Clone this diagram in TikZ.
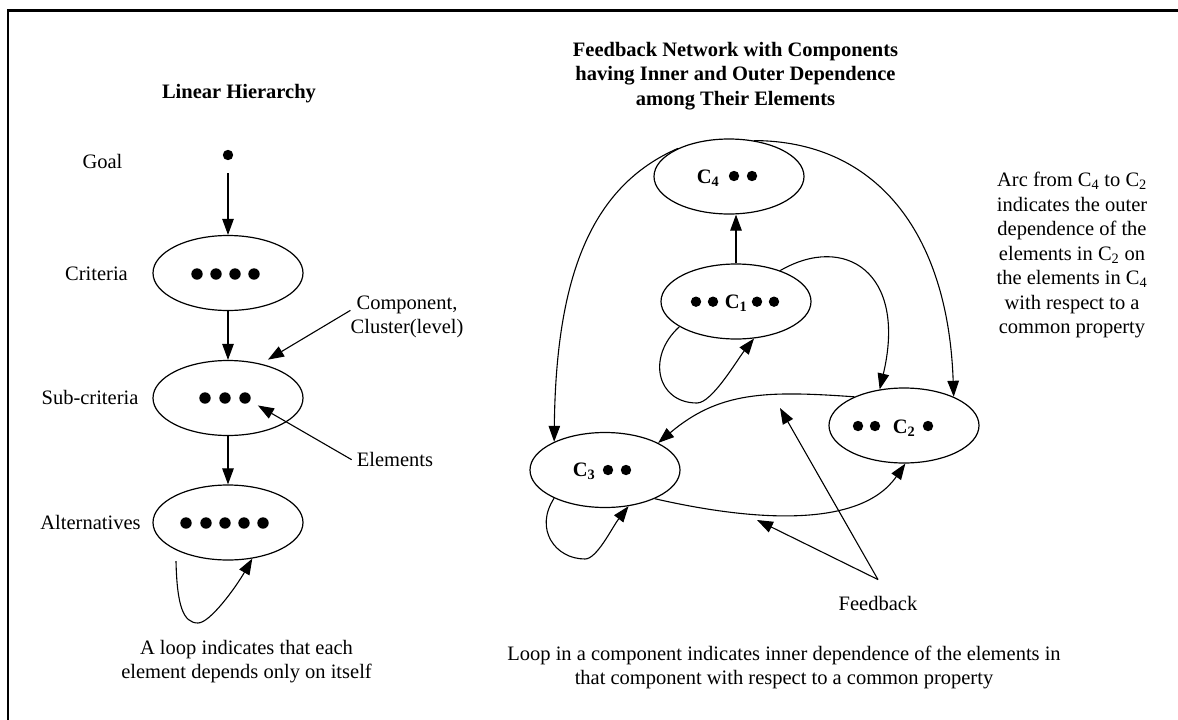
\documentclass[tikz,border=0pt]{standalone}
\usepackage{fontspec}
\setmainfont{Liberation Serif}
\usetikzlibrary{shapes.geometric,arrows.meta}
% centred multi-line text whose baseline is that of its first line
\newcommand{\stack}[1]{\begin{tabular}[t]{@{}c@{}}#1\end{tabular}}

\begin{document}
\begin{tikzpicture}[x=1pt,y=-1pt,
  every node/.style={font=\fontsize{20.5}{24.5}\selectfont, inner sep=0pt},
  comp/.style={draw, ellipse, line width=1.2pt, minimum width=150pt, minimum height=75pt},
  elem/.style={circle, fill, inner sep=0pt, minimum size=11.4pt},
  nelem/.style={circle, fill, inner sep=0pt, minimum size=10.4pt},
  link/.style={line width=1.1pt, -{Triangle[length=16pt,width=11.5pt]}},
  lbl/.style={anchor=base}
]
\useasboundingbox (0,0) rectangle (1178,720);

% frame
\draw[line width=2.5pt] (8,720) -- (8,10.5) -- (1178,10.5);

% ---------------- linear hierarchy ----------------
\node[lbl] (lhtitle) at (239,98.5) {\bfseries Linear Hierarchy};
\node[lbl] (goallbl) at (102.5,168) {Goal};
\node[lbl] (critlbl) at (96.5,280) {Criteria};
\node[lbl] (sublbl)  at (90,404.3) {Sub-criteria};
\node[lbl] (altlbl)  at (90.5,529.3) {Alternatives};

\node[nelem] (goal) at (228,155) {};
\node[comp] (crit) at (228,273) {};
\foreach \x [count=\i] in {197,216,235,254} \node[elem] (cr\i) at (\x,274) {};
\node[comp] (sub) at (228,398) {};
\foreach \x [count=\i] in {205,225,245} \node[elem] (sb\i) at (\x,398) {};
\node[comp] (alt) at (228,522.5) {};
\foreach \x [count=\i] in {186,206,225,244,263} \node[elem] (al\i) at (\x,523) {};

\draw[link, shorten <=13pt] (goal) -- (crit);
\draw[link] (crit) -- (sub);
\draw[link] (sub) -- (alt);

\node[lbl] (complbl) at (407,309) {\stack{Component,\\Cluster(level)}};
\draw[link] ([yshift=6pt]complbl.west) -- ([yshift=6pt]sub.39);
\node[lbl] (elemlbl) at (395,466.7) {Elements};
\draw[link, shorten >=9pt] ([xshift=-5pt]elemlbl.west) -- (sb3);

% self loop of the alternatives
\draw[link] ([yshift=-11pt]alt.208) .. controls (177,605) and (183,623) .. (198,623)
  .. controls (210,623) and (235.8,587.3) .. (alt.304);

\node[lbl] (loopnote) at (246.5,654)
  {\stack{A loop indicates that each\\element depends only on itself}};

% ---------------- feedback network ----------------
\node[lbl] (fntitle) at (735.5,56) {\bfseries\stack{Feedback Network with Components\\having Inner and Outer Dependence\\among Their Elements}};

\node[comp] (nc4) at (729,176.5) {};
\node[lbl] (nc4lbl) at (708,183.3) {\bfseries C\textsubscript{4}};
\foreach \x [count=\i] in {734,752} \node[nelem] (d4\i) at (\x,176) {};

\node[comp] (nc1) at (736,301.5) {};
\node[lbl] (nc1lbl) at (736,308.3) {\bfseries C\textsubscript{1}};
\foreach \x [count=\i] in {696,713,757,774} \node[nelem] (d1\i) at (\x,301.7) {};

\node[comp] (nc2) at (904,425.5) {};
\node[lbl] (nc2lbl) at (904,433.3) {\bfseries C\textsubscript{2}};
\foreach \x [count=\i] in {858,875,928} \node[nelem] (d2\i) at (\x,426) {};

\node[comp] (nc3) at (605,470) {};
\node[lbl] (nc3lbl) at (584,476.7) {\bfseries C\textsubscript{3}};
\foreach \x [count=\i] in {608,626} \node[nelem] (d3\i) at (\x,470) {};

% outer dependence
\draw[link] (nc1.north) -- (nc1.north |- nc4.south);
\draw[link] (nc4.151) .. controls (590.7,186.2) and (556,277) .. (nc3.151);
\draw[link] (nc4.55) .. controls (874,141) and (948,230) .. (nc2.30);
\draw[link] (nc1.35.5) .. controls (844,233.5) and (907.6,271.6) .. (nc2.124);
% feedback between C2 and C3
\draw[link] (nc2.150) .. controls (765,390.4) and (718.6,391.8) .. (nc3.27);
\draw[link] (nc3.330) .. controls (752,521) and (860,529) .. (nc2.272);
% inner dependence loops
\draw[link] (nc1.204) .. controls (646,357) and (657,403) .. (697,403)
  .. controls (712,403) and (737,360) .. (nc1.296);
\draw[link] (nc3.209) .. controls (534,529) and (555,559) .. (585,559)
  .. controls (597,559) and (612,527.5) .. (nc3.303);

% feedback pointer
\node[lbl] (fblbl) at (878,610) {Feedback};
\coordinate (fbsrc) at ([yshift=16pt]fblbl.north);
\coordinate (fbtip1) at (780,408);
\coordinate (fbtip2) at (757,520);
\draw[link] (fbsrc) -- (fbtip1);
\draw[link] (fbsrc) -- (fbtip2);

\node[lbl] (arcnote) at (1072,186.7) {\stack{Arc from C\textsubscript{4} to C\textsubscript{2}\\indicates the outer\\dependence of the\\elements in C\textsubscript{2} on\\the elements in C\textsubscript{4}\\with respect to a\\common property}};

\node[lbl] (loopnote2) at (784,660) {\stack{Loop in a component indicates inner dependence of the elements in\\that component with respect to a common property}};
\end{tikzpicture}
\end{document}
